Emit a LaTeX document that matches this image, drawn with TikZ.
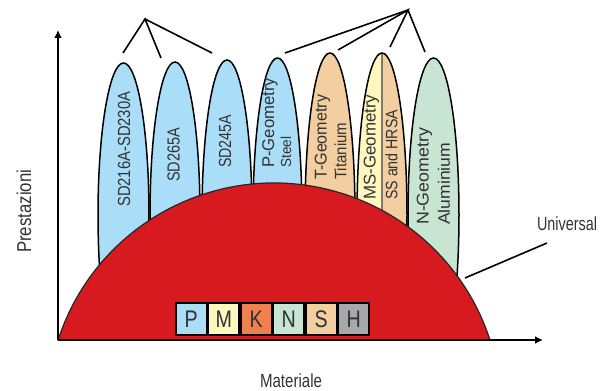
\documentclass[tikz,border=0pt]{standalone}
\usepackage{fontspec}
\setmainfont{Liberation Sans}
\usetikzlibrary{arrows.meta}
\definecolor{pblue}{RGB}{170,221,247}
\definecolor{ptan}{RGB}{242,206,160}
\definecolor{pyel}{RGB}{255,247,190}
\definecolor{pgreen}{RGB}{200,228,210}
\definecolor{pred}{RGB}{215,25,32}
\definecolor{porange}{RGB}{240,128,80}
\definecolor{pgray}{RGB}{166,168,171}
\definecolor{txt}{RGB}{50,50,50}
\definecolor{divc}{RGB}{130,120,105}
\newcommand{\fitw}[3]{\resizebox{#1pt}{\height}{\fontsize{#2}{#2}\selectfont #3}}
\tikzset{
  petal/.style={draw=black, line width=1.5pt},
  conn/.style={draw=black, line width=1.6pt},
  axisline/.style={draw=black, line width=1.6pt, -{Latex[length=8pt,width=8pt]}},
  lbl/.style={text=txt, inner sep=0pt},
  vlbl/.style={lbl, rotate=90, anchor=west},
  matbox/.style={draw=black, line width=2pt, minimum width=31pt, minimum height=32pt, inner sep=0pt, text=txt, font=\fontsize{24}{24}\selectfont}
}
\begin{document}
\begin{tikzpicture}[x=1pt,y=1pt]
\useasboundingbox (0,0) rectangle (606,391);
% petals
\begin{scope}
\clip (0,51) rectangle (606,391);
\path[petal, fill=pblue] (123.5,176) ellipse[x radius=25.5, y radius=152];
\path[petal, fill=pblue] (175,176) ellipse[x radius=25, y radius=153];
\path[petal, fill=pblue] (227,176) ellipse[x radius=25, y radius=155];
\path[petal, fill=pblue] (277.5,176) ellipse[x radius=24.5, y radius=157];
\path[petal, fill=ptan] (330,176) ellipse[x radius=25, y radius=162];
\begin{scope}
\clip (382,176) ellipse[x radius=25, y radius=162];
\fill[pyel] (355,0) rectangle (382,391);
\fill[ptan] (382,0) rectangle (410,391);
\draw[divc, line width=1.2pt] (382,340) -- (382,51);
\end{scope}
\path[petal] (382,176) ellipse[x radius=25, y radius=162];
\path[petal, fill=pgreen] (433.5,176) ellipse[x radius=25.5, y radius=157];
\end{scope}
% petal labels
\node[vlbl] (t1) at (124,184) {\fitw{115}{17.5}{SD216A-SD230A}};
\node[vlbl] (t2) at (173.5,209) {\fitw{54}{17.5}{SD265A}};
\node[vlbl] (t3) at (225,223) {\fitw{53}{17.5}{SD245A}};
\node[vlbl] (t4a) at (270,223) {\fitw{90}{17}{P-Geometry}};
\node[vlbl] (t4b) at (286,223) {\fitw{31}{14.5}{Steel}};
\node[vlbl] (t5a) at (322.5,211) {\fitw{85}{17}{T-Geometry}};
\node[vlbl] (t5b) at (340.5,211) {\fitw{57}{16.5}{Titanium}};
\node[vlbl] (t6a) at (371.5,191) {\fitw{105}{17}{MS-Geometry}};
\node[vlbl] (t6b) at (391.5,191) {\fitw{90}{16.5}{SS and HRSA}};
\node[vlbl] (t7a) at (424.5,166) {\fitw{97}{17}{N-Geometry}};
\node[vlbl] (t7b) at (444,166) {\fitw{82}{16.5}{Aluminium}};
% red dome
\draw[fill=pred, draw=black!85, line width=1.2pt] (58.1,51) arc[start angle=162.04, end angle=17.96, radius=227] -- cycle;
% material boxes
\node[matbox, fill=pblue] (bP) at (191.25,71.5) {\scalebox{0.82}[1]{P}};
\node[matbox, fill=pyel] (bM) at (223.75,71.5) {\scalebox{0.82}[1]{M}};
\node[matbox, fill=porange] (bK) at (256.25,71.5) {\scalebox{0.82}[1]{K}};
\node[matbox, fill=pgreen] (bN) at (288.75,71.5) {\scalebox{0.82}[1]{N}};
\node[matbox, fill=ptan] (bS) at (321.25,71.5) {\scalebox{0.82}[1]{S}};
\node[matbox, fill=pgray] (bH) at (353.75,71.5) {\scalebox{0.82}[1]{H}};
% axes
\coordinate (O) at (58,51);
\coordinate (ytip) at (58,361);
\coordinate (xtip) at (543,51);
\draw[axisline] (O) -- (ytip);
\draw[axisline] (O) -- (xtip);
\node[vlbl] (ylab) at (24,138) {\fitw{83}{20}{Prestazioni}};
\node[lbl] (xlab) at (291,10) {\fitw{62}{19}{Materiale}};
% grouping lines
\coordinate (la) at (145,372);
\coordinate (l1) at (123,338);
\coordinate (l2) at (161,333);
\coordinate (l3) at (212,338);
\draw[conn] (l1) -- (la) -- (l2);
\draw[conn] (la) -- (l3);
\coordinate (ra) at (408,381);
\coordinate (r1) at (285,338);
\coordinate (r2) at (338,341);
\coordinate (r3) at (390,344);
\coordinate (r4) at (425,339);
\draw[conn] (r1) -- (ra) -- (r4);
\draw[conn] (r2) -- (ra) -- (r3);
% universal
\node[lbl] (univ) at (567,167) {\fitw{60}{19}{Universal}};
\coordinate (u1) at (465,113);
\coordinate (u2) at (547,148);
\draw[conn] (u1) -- (u2);
\end{tikzpicture}
\end{document}
